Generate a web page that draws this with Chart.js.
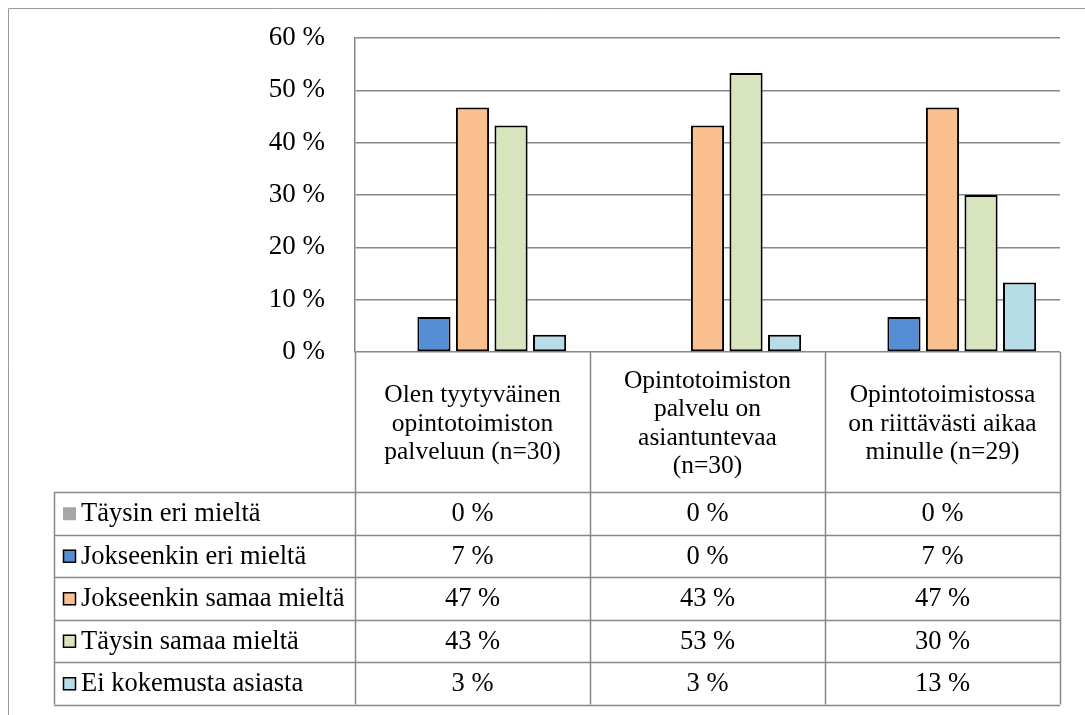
<!DOCTYPE html>
<html>
<head>
<meta charset="utf-8">
<script src="https://cdn.jsdelivr.net/npm/chart.js@4.4.1/dist/chart.umd.min.js"></script>
<style>
    html, body { margin: 0; padding: 0; background: #fff; }
    #wrap { position: relative; width: 1085px; height: 715px; }
</style>
</head>
<body>
<div id="wrap"><canvas id="chart" width="1085" height="715"></canvas></div>
<script>
// Data
const categories = [
    ['Olen tyytyväinen', 'opintotoimiston', 'palveluun (n=30)'],
    ['Opintotoimiston', 'palvelu on', 'asiantuntevaa', '(n=30)'],
    ['Opintotoimistossa', 'on riittävästi aikaa', 'minulle (n=29)']
];
const seriesNames = ['Täysin eri mieltä', 'Jokseenkin eri mieltä', 'Jokseenkin samaa mieltä', 'Täysin samaa mieltä', 'Ei kokemusta asiasta'];
const taysinEri = [0, 0, 0];
const jokseenkinEri = [6.7, 0, 6.7];
const jokseenkinSamaa = [46.7, 43.3, 46.7];
const taysinSamaa = [43.3, 53.3, 30];
const eiKokemusta = [3.3, 3.3, 13.3];
const yTicks = [0, 10, 20, 30, 40, 50, 60];

const seriesValues = [taysinEri, jokseenkinEri, jokseenkinSamaa, taysinSamaa, eiKokemusta];
const seriesColors = ['#A6A6A6', '#558ED5', '#FAC090', '#D7E4BD', '#B7DEE8'];

const GRID = '#888888';
const FONT = '"Liberation Serif", "Times New Roman", serif';

// Outer frame of the chart object
const framePlugin = {
    id: 'frame',
    beforeDraw(chart) {
        const ctx = chart.ctx;
        ctx.save();
        ctx.strokeStyle = '#999';
        ctx.lineWidth = 1;
        ctx.beginPath();
        ctx.moveTo(8.5, 715);
        ctx.lineTo(8.5, 8.5);
        ctx.lineTo(1085, 8.5);
        ctx.stroke();
        ctx.restore();
    }
};

// Category labels + data table under the plot
const tablePlugin = {
    id: 'dataTable',
    afterDraw(chart) {
        const ctx = chart.ctx;
        const area = chart.chartArea;
        const xScale = chart.scales.x;
        const catW = (area.right - area.left) / categories.length;
        const labelTop = area.bottom;
        const tableTop = labelTop + 140;
        const rowH = 42.5;
        const tableLeft = 54;
        const tableBottom = tableTop + rowH * seriesNames.length;

        ctx.save();
        ctx.strokeStyle = GRID;
        ctx.lineWidth = 1.5;

        // vertical lines
        for (let i = 0; i <= categories.length; i++) {
            const x = Math.round(area.left + catW * i) + 0.5;
            ctx.beginPath();
            ctx.moveTo(x, labelTop);
            ctx.lineTo(x, tableBottom);
            ctx.stroke();
        }
        ctx.beginPath();
        ctx.moveTo(tableLeft + 0.5, tableTop);
        ctx.lineTo(tableLeft + 0.5, tableBottom);
        ctx.stroke();

        // horizontal lines
        for (let r = 0; r <= seriesNames.length; r++) {
            const y = Math.round(tableTop + rowH * r) + 0.5;
            ctx.beginPath();
            ctx.moveTo(tableLeft, y);
            ctx.lineTo(area.right, y);
            ctx.stroke();
        }

        // category labels
        ctx.fillStyle = '#000';
        ctx.textAlign = 'center';
        ctx.textBaseline = 'middle';
        ctx.font = '25.5px ' + FONT;
        const lineH = 28.5;
        categories.forEach((lines, i) => {
            const cx = xScale.getPixelForValue(i);
            const cy = labelTop + 72;
            const y0 = cy - (lines.length - 1) * lineH / 2;
            lines.forEach((t, k) => ctx.fillText(t, cx, y0 + k * lineH));
        });

        // table rows
        ctx.font = '26.5px ' + FONT;
        seriesNames.forEach((name, r) => {
            const cy = tableTop + rowH * r + rowH / 2;
            // legend key
            ctx.fillStyle = seriesColors[r];
            ctx.fillRect(63, cy - 6, 13, 13);
            if (r > 0) {
                ctx.strokeStyle = '#000';
                ctx.lineWidth = 1.5;
                ctx.strokeRect(63.5, cy - 5.5, 12, 12);
            }
            ctx.fillStyle = '#000';
            ctx.textAlign = 'left';
            ctx.fillText(name, 81, cy + 1);
            ctx.textAlign = 'center';
            seriesValues[r].forEach((v, i) => {
                ctx.fillText(Math.round(v) + ' %', xScale.getPixelForValue(i), cy + 1);
            });
        });
        ctx.restore();
    }
};

const ctx = document.getElementById('chart').getContext('2d');
new Chart(ctx, {
    type: 'bar',
    data: {
        labels: categories.map(c => c.join(' ')),
        datasets: seriesNames.map((name, i) => ({
            label: name,
            data: seriesValues[i],
            backgroundColor: seriesColors[i],
            borderColor: '#000',
            borderWidth: 2,
            borderSkipped: false,
            categoryPercentage: 0.82,
            barPercentage: 0.86
        }))
    },
    options: {
        responsive: false,
        animation: false,
        layout: { padding: { left: 255, right: 25, top: 38, bottom: 0 } },
        plugins: {
            legend: { display: false },
            tooltip: { enabled: false }
        },
        scales: {
            x: {
                ticks: { display: false },
                grid: { display: false },
                border: { display: false },
                afterFit: scale => { scale.height = 363; }
            },
            y: {
                min: yTicks[0],
                max: yTicks[yTicks.length - 1],
                afterBuildTicks: scale => { scale.ticks = yTicks.map(v => ({ value: v })); },
                ticks: {
                    callback: v => v + ' %',
                    color: '#000',
                    padding: 30,
                    font: { family: FONT, size: 27 }
                },
                grid: { color: GRID, lineWidth: 1.5, drawTicks: false },
                border: { display: true, color: GRID, width: 1.5 },
                afterFit: scale => {
                    scale.width = 100;
                    // tick padding should not push the plot down
                    scale.paddingTop = 16;
                    scale.paddingBottom = 16;
                }
            }
        }
    },
    plugins: [framePlugin, tablePlugin]
});
</script>
</body>
</html>
